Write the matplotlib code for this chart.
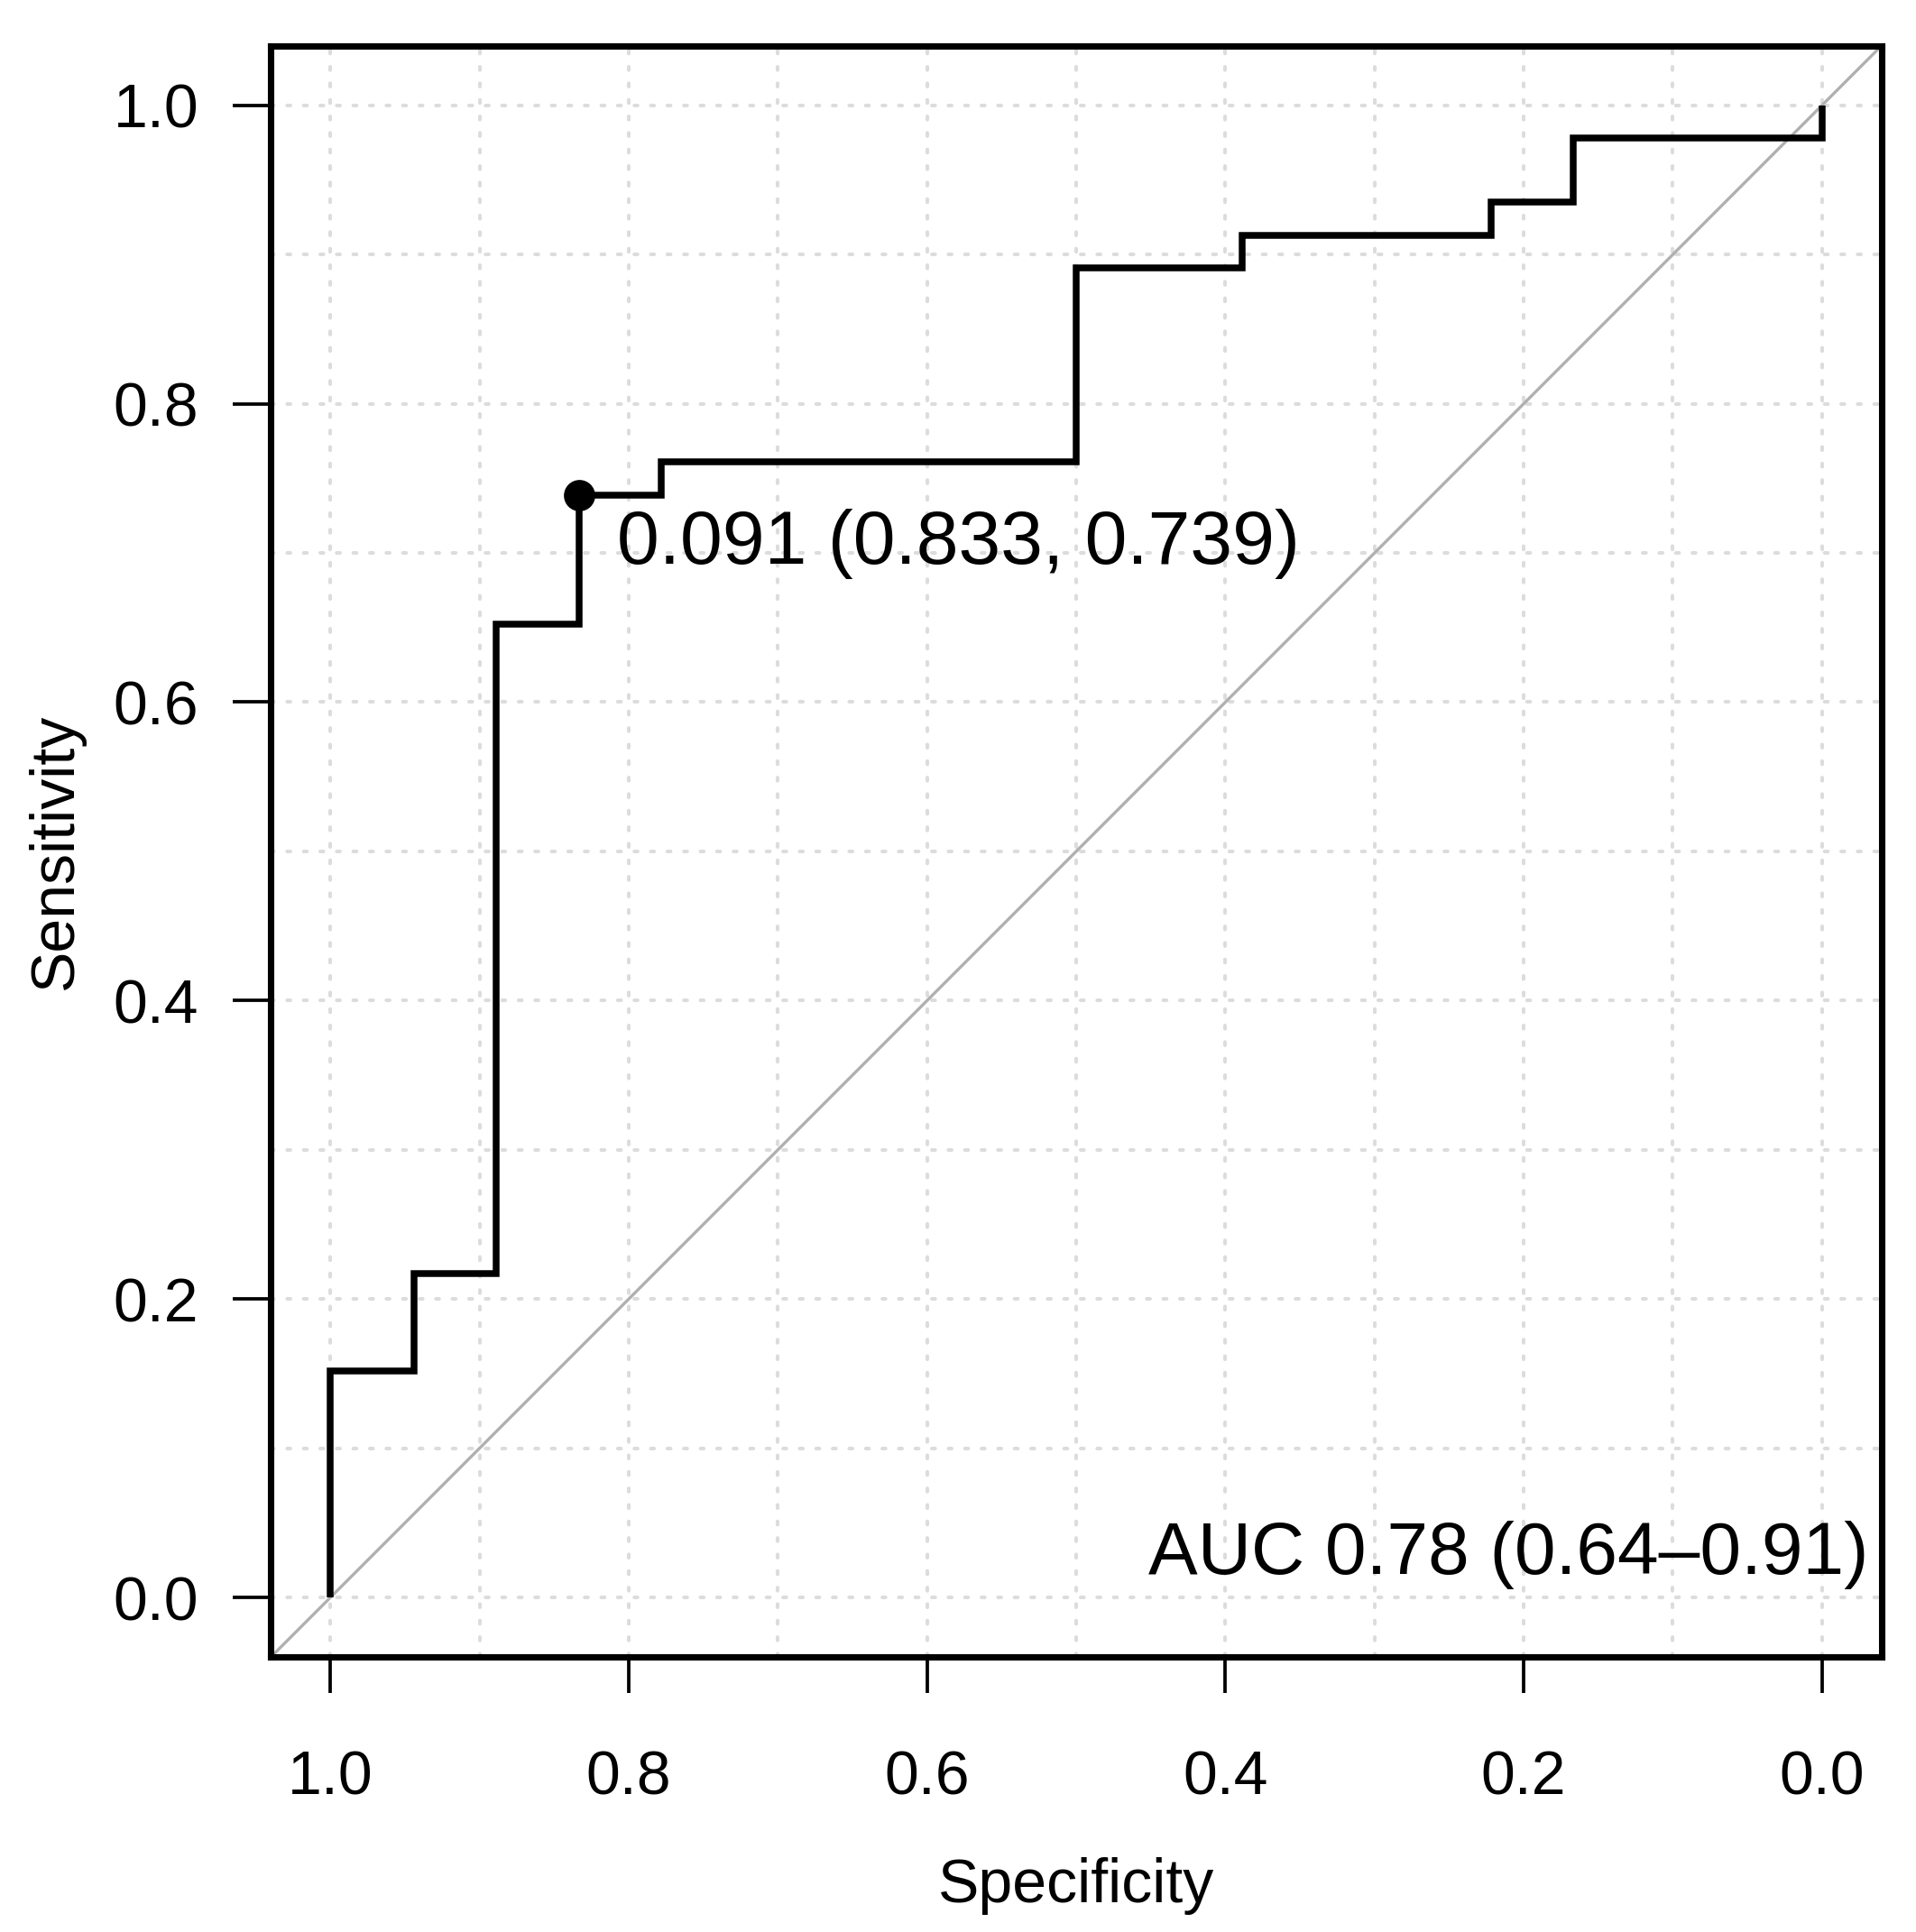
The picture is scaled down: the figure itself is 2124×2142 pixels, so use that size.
import matplotlib
matplotlib.use("Agg")
import matplotlib.pyplot as plt
from matplotlib.ticker import FixedLocator

plt.rcParams['font.family'] = ['Liberation Sans', 'DejaVu Sans']

# ROC curve vertices (specificity, sensitivity)
specificity = [1.000, 1.000, 0.944, 0.944, 0.889, 0.889, 0.833, 0.833, 0.778, 0.778,
               0.500, 0.500, 0.389, 0.389, 0.222, 0.222, 0.167, 0.167, 0.000, 0.000]
sensitivity = [0.000, 0.152, 0.152, 0.217, 0.217, 0.652, 0.652, 0.739, 0.739, 0.761,
               0.761, 0.891, 0.891, 0.913, 0.913, 0.935, 0.935, 0.978, 0.978, 1.000]

best_threshold = 0.091
best_spec = 0.833
best_sens = 0.739
auc_value = 0.78
auc_ci = (0.64, 0.91)

tick_values = [1.0, 0.8, 0.6, 0.4, 0.2, 0.0]
tick_labels = ["1.0", "0.8", "0.6", "0.4", "0.2", "0.0"]
grid_values = [i / 10 for i in range(11)]

W, H, DPI = 2124, 2142, 200
fig = plt.figure(figsize=(W / DPI, H / DPI), dpi=DPI)
left, right, top, bottom = 300, 2086, 50.5, 1837.4
ax = fig.add_axes([left / W, 1 - bottom / H, (right - left) / W, (bottom - top) / H])

ax.set_xlim(1.04, -0.04)
ax.set_ylim(-0.04, 1.04)

# grid
for g in grid_values:
    ax.axhline(g, color='#dcdcdc', lw=1.45, ls=(0, (0.9, 3.65)),
               dash_capstyle='round', zorder=1)
    ax.axvline(g, color='#dcdcdc', lw=1.45, ls=(0, (0.9, 3.65)),
               dash_capstyle='round', zorder=1)

# diagonal
ax.axline((1, 0), (0, 1), color='#b0b0b0', lw=1.2, zorder=2)

# ROC
ax.plot(specificity, sensitivity, color='black', lw=2.7, zorder=3,
        solid_joinstyle='miter', solid_capstyle='butt')
ax.plot([best_spec], [best_sens], 'o', color='black', markersize=11.5, zorder=4)

ax.text(0.8075, 0.693, f"{best_threshold:.3f} ({best_spec:.3f}, {best_sens:.3f})",
        fontsize=30.3, ha='left', va='baseline', zorder=5)
ax.text(-0.031, 0.016, f"AUC {auc_value:.2f} ({auc_ci[0]:.2f}\u2013{auc_ci[1]:.2f})",
        fontsize=29.5, ha='right', va='baseline', zorder=5)

ax.xaxis.set_major_locator(FixedLocator(tick_values))
ax.yaxis.set_major_locator(FixedLocator(tick_values))
ax.set_xticklabels(tick_labels)
ax.set_yticklabels(tick_labels)
ax.tick_params(axis='x', length=14.5, width=1.35, pad=22.3, labelsize=24.5,
               direction='out')
ax.tick_params(axis='y', length=15, width=1.35, pad=13.7, labelsize=24.5,
               direction='out')

for s in ax.spines.values():
    s.set_linewidth(2.55)
    s.set_zorder(6)

ax.set_xlabel("Specificity", fontsize=24.5)
ax.xaxis.label.set_va('baseline')
ax.xaxis.set_label_coords(0.5, (bottom - 2109) / (bottom - top))
ax.set_ylabel("Sensitivity", fontsize=24.5)
ax.yaxis.label.set_va('baseline')
ax.yaxis.set_label_coords((80 - left) / (right - left), 0.5)

fig.savefig("out.png", dpi=DPI)
